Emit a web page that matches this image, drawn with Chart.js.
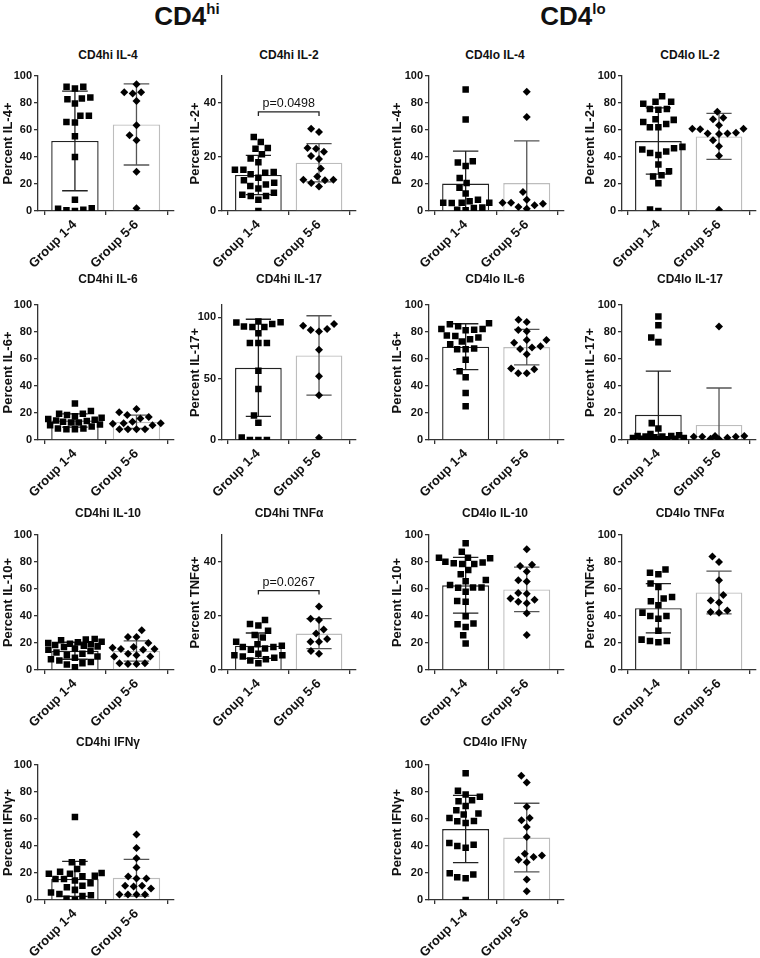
<!DOCTYPE html>
<html><head><meta charset="utf-8">
<script src="https://cdn.jsdelivr.net/npm/chart.js@4.4.0/dist/chart.umd.min.js"></script>
<style>
html,body{margin:0;padding:0;background:#fff;}
body{width:760px;height:958px;position:relative;overflow:hidden;font-family:"Liberation Sans",Arial,sans-serif;color:#111;}
.hdr{position:absolute;font-weight:bold;font-size:26px;transform:translateX(-50%);line-height:1;white-space:nowrap}
.hdr sup{font-size:15px;vertical-align:top;position:relative;top:-2px}
.pt{position:absolute;font-weight:bold;font-size:12px;transform:translate(-50%,-50%);white-space:nowrap}
canvas{position:absolute}
</style></head><body>
<div class="hdr" style="left:187px;top:3px">CD4<sup>hi</sup></div>
<div class="hdr" style="left:573px;top:3px">CD4<sup>lo</sup></div>
<script>
const groups = ['Group 1-4', 'Group 5-6'];

// ---- CD4hi (% positive) ----
const hiIL4_g14 = [92, 90.8, 92, 84, 82.7, 83.4, 79.7, 70.5, 70.5, 65.6, 66, 55.4, 40, 8.4, 1.7, 1, 0, 0.5, 2];
const hiIL4_g56 = [93.8, 87.9, 87.9, 87.1, 81.4, 63.6, 56.2, 52.5, 29, 2];
const hiIL2_g14 = [27.4, 25.6, 23.3, 23.1, 21, 19.4, 18.1, 15.3, 15.3, 14.4, 14.2, 13.6, 12.3, 11.4, 10.5, 9.8, 9.3, 8.3, 6.8, 6, 5.6, 5.6, 4.2, 0];
const hiIL2_g56 = [30.5, 29.3, 23.3, 23.1, 21.9, 20.4, 19.3, 15.7, 12.8, 11.6, 11.4, 11.6, 10.4, 9.1];
const hiIL6_g14 = [27, 21.5, 19.5, 19.5, 18.5, 17.5, 16.5, 15.5, 15, 14.5, 14, 13.5, 13, 13, 11.5, 11, 10, 8.5, 8, 8, 8.5];
const hiIL6_g56 = [23, 20.5, 18.5, 17, 16, 13.5, 12.5, 12.5, 12, 11, 8, 8, 8, 8];
const hiIL17_g14 = [96.5, 95.7, 96, 94.6, 92.5, 92, 92, 87, 79, 79, 79, 56.5, 41.5, 20, 14, 2, 0, 0, 0];
const hiIL17_g56 = [94.6, 93, 90.5, 89.7, 88.4, 73.5, 51.9, 36.5, 1.9];
const hiIL10_g14 = [23, 22.5, 22, 21, 20.5, 20, 19.5, 19, 18.5, 18, 17.5, 17, 16, 15, 14, 13, 12, 11, 10, 9, 8, 7, 6, 5, 4, 2];
const hiIL10_g56 = [29.5, 24.5, 24.5, 20, 17, 16.5, 15.5, 15.5, 15, 12, 11, 10, 10, 5, 4.5, 4.5, 5];
const hiTNF_g14 = [18.5, 17, 16.5, 14.5, 13, 12, 10.5, 9.5, 9, 8.5, 8.5, 8, 7.5, 6, 5.5, 5.5, 5, 4.5, 4, 3.5, 2.5];
const hiTNF_g56 = [23.5, 19, 18.5, 15, 13.5, 11.5, 10.5, 10.5, 7, 6];
const hiIFN_g14 = [61.5, 28, 28, 23, 21, 20, 19.5, 19.5, 18, 17.5, 15.5, 15.5, 14.5, 12.5, 10.5, 9.5, 7.5, 5.5, 4.5, 3.5, 3, 1, 0];
const hiIFN_g56 = [48.5, 38.5, 31, 24, 17.5, 16, 16, 10.5, 10.5, 10, 8.5, 4, 4, 4, 4];

// ---- CD4lo ----
const loIL4_g14 = [90, 67.8, 36.9, 35.9, 33.4, 24.5, 20.8, 17.3, 12.9, 8.4, 7.2, 6.2, 5.9, 6.2, 6.2, 2.5, 0.5, 2.2, 1];
const loIL4_g56 = [88.4, 69.6, 14.1, 8.4, 6.2, 4.2, 1.7, 3, 5.4, 6.2];
const loIL2_g14 = [85, 81, 81, 79.5, 75.5, 75.5, 75, 68, 67.5, 66, 64.5, 62, 62, 47.5, 46.5, 45.5, 44, 43, 41.5, 34.5, 29.5, 26.5, 25.5, 20.5, 1.2, 0];
const loIL2_g56 = [73.5, 69, 68, 63.5, 61, 61, 60.5, 58, 57.5, 57, 57.5, 52.5, 48, 41, 1];
const loIL6_g14 = [85.7, 86.5, 84.3, 82.3, 81.3, 82.3, 81.6, 77.4, 74.7, 77.1, 75.9, 73, 71, 67.8, 67.3, 67.3, 59.5, 50.9, 46.4, 34.9, 25];
const loIL6_g56 = [89, 87.5, 81.5, 80.5, 74, 74, 72, 69.5, 68.5, 67.5, 63.5, 53, 52.5, 49.5, 49.5];
const loIL17_g14 = [91.5, 85, 76, 72.5, 12.5, 8.5, 4.5, 3.5, 3, 2.5, 2, 1.5, 1, 0.5, 0.5, 0.5, 1, 1.5, 2.5, 3];
const loIL17_g56 = [84, 2.5, 1.7, 2.5, 3, 2.5, 3, 0.5, 1];
const loIL10_g14 = [93.8, 87.6, 78.5, 83.2, 82.7, 83.2, 80.2, 79, 79.7, 78.5, 71, 74, 66.6, 65.8, 61.1, 61.1, 62.9, 60.9, 57.9, 51.2, 50.5, 39.9, 33.9, 31.9, 34.4, 25.7, 19.6];
const loIL10_g56 = [89.5, 78, 77, 73, 66.5, 65.5, 57, 56.5, 53, 52, 50.5, 49.5, 42, 26];
const loTNF_g14 = [74.5, 72, 71, 64, 61.5, 54, 53, 51, 48, 42.5, 40, 40, 38, 29, 22.5, 21.5, 21.5, 20.5];
const loTNF_g56 = [84, 80, 66.5, 55.5, 51.5, 50, 44, 43, 42.5];
const loIFN_g14 = [93.8, 80.9, 78.2, 76.4, 69.7, 73.9, 73.2, 66.5, 64, 63.3, 60.8, 58.3, 57.1, 58.6, 40.9, 38.7, 40, 42.2, 19.9, 16.9, 16.1, 18.9, 0];
const loIFN_g56 = [92, 87.1, 69, 59.1, 60.8, 54.1, 46.7, 34.2, 31.8, 28, 29.8, 33, 15.1, 6.5];

// significance annotations
const pLabels = ['p=0.0498', 'p=0.0267'];
const pBracketY = [36.7, 29.4];

const FONT = '"Liberation Sans", Arial, sans-serif';
const COLS = [
  {cl: 0,   ax: 38,  ae: 175, lx: 8,   tx: 108},
  {cl: 185, ax: 222, ae: 357, lx: 195, tx: 289},
  {cl: 385, ax: 429, ae: 565, lx: 397, tx: 495},
  {cl: 575, ax: 622, ae: 757, lx: 590, tx: 690}
];
const ROWS = [{top: 76, ty: 55}, {top: 305, ty: 279}, {top: 535, ty: 513}, {top: 765, ty: 742}];
const PLOT_H = 135, PAD_T = 12, XH = 64, XMIN = -0.6, XMAX = 1.6;

const panels = [
  {t: 'CD4hi IL-4', yl: 'Percent IL-4+', a: hiIL4_g14, b: hiIL4_g56, r: 0, c: 0, max: 100, step: 20},
  {t: 'CD4hi IL-2', yl: 'Percent IL-2+', a: hiIL2_g14, b: hiIL2_g56, r: 0, c: 1, max: 50, step: 20, p: 0},
  {t: 'CD4lo IL-4', yl: 'Percent IL-4+', a: loIL4_g14, b: loIL4_g56, r: 0, c: 2, max: 100, step: 20},
  {t: 'CD4lo IL-2', yl: 'Percent IL-2+', a: loIL2_g14, b: loIL2_g56, r: 0, c: 3, max: 100, step: 20},
  {t: 'CD4hi IL-6', yl: 'Percent IL-6+', a: hiIL6_g14, b: hiIL6_g56, r: 1, c: 0, max: 100, step: 20},
  {t: 'CD4hi IL-17', yl: 'Percent IL-17+', a: hiIL17_g14, b: hiIL17_g56, r: 1, c: 1, max: 110, step: 50},
  {t: 'CD4lo IL-6', yl: 'Percent IL-6+', a: loIL6_g14, b: loIL6_g56, r: 1, c: 2, max: 100, step: 20},
  {t: 'CD4lo IL-17', yl: 'Percent IL-17+', a: loIL17_g14, b: loIL17_g56, r: 1, c: 3, max: 100, step: 20},
  {t: 'CD4hi IL-10', yl: 'Percent IL-10+', a: hiIL10_g14, b: hiIL10_g56, r: 2, c: 0, max: 100, step: 20},
  {t: 'CD4hi TNFα', yl: 'Percent TNFα+', a: hiTNF_g14, b: hiTNF_g56, r: 2, c: 1, max: 50, step: 20, p: 1},
  {t: 'CD4lo IL-10', yl: 'Percent IL-10+', a: loIL10_g14, b: loIL10_g56, r: 2, c: 2, max: 100, step: 20},
  {t: 'CD4lo TNFα', yl: 'Percent TNFα+', a: loTNF_g14, b: loTNF_g56, r: 2, c: 3, max: 100, step: 20},
  {t: 'CD4hi IFNγ', yl: 'Percent IFNγ+', a: hiIFN_g14, b: hiIFN_g56, r: 3, c: 0, max: 100, step: 20},
  {t: 'CD4lo IFNγ', yl: 'Percent IFNγ+', a: loIFN_g14, b: loIFN_g56, r: 3, c: 2, max: 100, step: 20}
];

const mean = v => v.reduce((s, x) => s + x, 0) / v.length;
const sdev = v => { const m = mean(v); return Math.sqrt(v.reduce((s, x) => s + (x - m) * (x - m), 0) / (v.length - 1)); };

// beeswarm-style horizontal spreading of the dots (in px, converted to axis units)
function swarm(vals, yMax, pxX) {
  const py = PLOT_H / yMax, D = 8.6, CAP = 27;
  const idx = vals.map((_, i) => i).sort((a, b) => vals[a] - vals[b]);
  const placed = [], off = new Array(vals.length).fill(0);
  for (const i of idx) {
    const y = vals[i] * py;
    const near = placed.filter(p => Math.abs(p.y - y) < D);
    const cands = [0];
    near.forEach(p => { const w = Math.sqrt(D * D - (p.y - y) ** 2); cands.push(p.x + w + 0.01, p.x - w - 0.01); });
    cands.sort((a, b) => Math.abs(a) - Math.abs(b) || a - b);
    let best = null;
    for (const c of cands) {
      if (Math.abs(c) > CAP) continue;
      if (near.every(p => (p.x - c) ** 2 + (p.y - y) ** 2 >= D * D - 0.05)) { best = c; break; }
    }
    if (best === null) {
      let bs = -1; best = 0;
      for (let c = -CAP; c <= CAP; c += 1) {
        const s = near.reduce((m, p) => Math.min(m, (p.x - c) ** 2 + (p.y - y) ** 2), Infinity);
        if (s > bs) { bs = s; best = c; }
      }
    }
    placed.push({x: best, y});
    off[i] = best / pxX;
  }
  return off;
}

const errPlugin = {
  id: 'errbars',
  afterDatasetDraw(chart, args) {
    if (args.index !== 0) return;
    const ds = chart.data.datasets[0], y = chart.scales.y, ctx = chart.ctx;
    args.meta.data.forEach((el, i) => {
      const m = ds.data[i].y, s = ds.sd[i];
      const yt = y.getPixelForValue(m + s), yb = y.getPixelForValue(Math.max(m - s, 0));
      const hw = el.width * 0.27;
      ctx.save();
      ctx.strokeStyle = ds.errColors[i]; ctx.lineWidth = 1.3;
      ctx.beginPath();
      ctx.moveTo(el.x, yt); ctx.lineTo(el.x, yb);
      ctx.moveTo(el.x - hw, yt); ctx.lineTo(el.x + hw, yt);
      if (m - s > 0) { ctx.moveTo(el.x - hw, yb); ctx.lineTo(el.x + hw, yb); }
      ctx.stroke();
      ctx.restore();
    });
  }
};

function bracketPlugin(pi) {
  return {
    id: 'pbracket',
    afterDatasetsDraw(chart) {
      if (pi === undefined) return;
      const x = chart.scales.x, y = chart.scales.y, ctx = chart.ctx;
      const x0 = x.getPixelForValue(0), x1 = x.getPixelForValue(1), yy = y.getPixelForValue(pBracketY[pi]);
      ctx.save();
      ctx.strokeStyle = '#222'; ctx.lineWidth = 1.3;
      ctx.beginPath();
      ctx.moveTo(x0, yy + 4); ctx.lineTo(x0, yy); ctx.lineTo(x1, yy); ctx.lineTo(x1, yy + 4);
      ctx.stroke();
      ctx.fillStyle = '#111'; ctx.font = '12.5px ' + FONT; ctx.textAlign = 'center'; ctx.textBaseline = 'bottom';
      ctx.fillText(pLabels[pi], (x0 + x1) / 2, yy - 2);
      ctx.restore();
    }
  };
}

panels.forEach(P => {
  const C = COLS[P.c], R = ROWS[P.r];
  const t = document.createElement('div');
  t.className = 'pt'; t.textContent = P.t;
  t.style.left = C.tx + 'px'; t.style.top = R.ty + 'px';
  document.body.appendChild(t);

  const cv = document.createElement('canvas');
  const W = C.ae - C.cl + 3, H = PAD_T + PLOT_H + XH;
  cv.width = W; cv.height = H;
  cv.style.left = C.cl + 'px'; cv.style.top = (R.top - PAD_T) + 'px';
  cv.style.width = W + 'px'; cv.style.height = H + 'px';
  document.body.appendChild(cv);

  const pxX = (C.ae - C.ax) / (XMAX - XMIN);
  const offA = swarm(P.a, P.max, pxX), offB = swarm(P.b, P.max, pxX);
  const means = [mean(P.a), mean(P.b)], sds = [sdev(P.a), sdev(P.b)];
  const axisGrid = {display: true, drawOnChartArea: false, drawTicks: true, tickLength: 4, color: '#333', lineWidth: 1.3};
  const axisBorder = {display: true, color: '#333', width: 1.3};

  new Chart(cv, {
    type: 'bar',
    data: {
      datasets: [
        {type: 'bar', data: [{x: 0, y: means[0]}, {x: 1, y: means[1]}], backgroundColor: '#fff',
         borderColor: ['#222', '#bdbdbd'], borderWidth: 1.4, barPercentage: 0.77, categoryPercentage: 1,
         order: 3, sd: sds, errColors: ['#222', '#555']},
        {type: 'scatter', data: P.a.map((v, i) => ({x: offA[i], y: v})), pointStyle: 'rect', pointRadius: 4.6,
         backgroundColor: '#000', borderWidth: 0, order: 2},
        {type: 'scatter', data: P.b.map((v, i) => ({x: 1 + offB[i], y: v})), pointStyle: 'rectRot', pointRadius: 4,
         backgroundColor: '#000', borderWidth: 0, order: 1}
      ]
    },
    options: {
      responsive: false, animation: false, devicePixelRatio: 1,
      layout: {padding: {top: PAD_T, right: 3, bottom: 0, left: 0}},
      plugins: {legend: {display: false}, tooltip: {enabled: false}, title: {display: false}},
      scales: {
        x: {
          type: 'linear', min: XMIN, max: XMAX, offset: false,
          afterBuildTicks: s => { s.ticks = [{value: 0}, {value: 1}]; },
          afterFit: s => { s.height = XH; s.paddingLeft = 0; s.paddingRight = 0; },
          grid: axisGrid, border: axisBorder,
          ticks: {autoSkip: false, minRotation: 45, maxRotation: 45, padding: 2, color: '#111',
                  font: {family: FONT, size: 13, weight: 'bold'}, callback: v => groups[v] ?? ''}
        },
        y: {
          min: 0, max: P.max,
          afterBuildTicks: s => { s.ticks = s.ticks.filter(tk => tk.value % P.step === 0); },
          afterFit: s => { s.width = C.ax - C.cl; s.paddingTop = 0; s.paddingBottom = 0; },
          grid: axisGrid, border: axisBorder,
          ticks: {stepSize: P.step, padding: 2, color: '#111', font: {family: FONT, size: 11, weight: 'bold'}},
          title: {display: true, text: P.yl, color: '#111', font: {family: FONT, size: 13, weight: 'bold'},
                  padding: {top: Math.max(0, C.lx - C.cl - 7.8), bottom: 0}}
        }
      }
    },
    plugins: [errPlugin, bracketPlugin(P.p)]
  });
});
</script>
</body></html>
